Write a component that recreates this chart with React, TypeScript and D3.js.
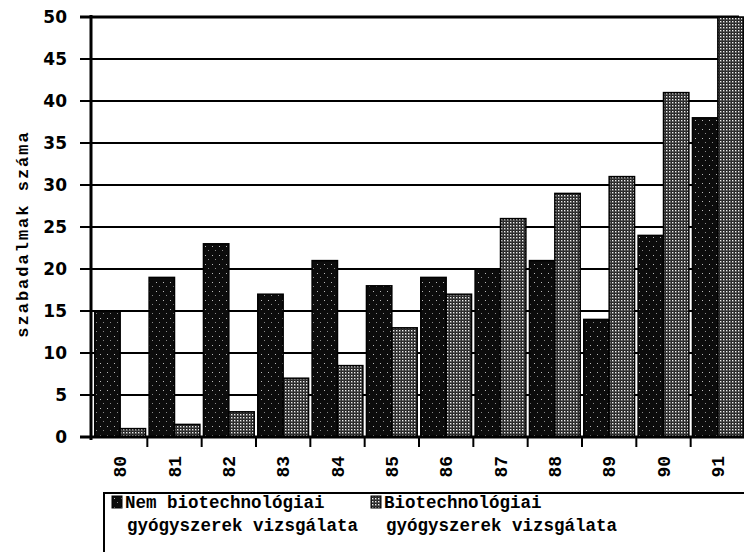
import * as d3 from 'd3';
import {useEffect, useRef} from 'react';

const years = ['80', '81', '82', '83', '84', '85', '86', '87', '88', '89', '90', '91'];
const nemBio = [15, 19, 23, 17, 21, 18, 19, 20, 21, 14, 24, 38];
const bio = [1, 1.5, 3, 7, 8.5, 13, 17, 26, 29, 31, 41, 50];
const yTicks = [0, 5, 10, 15, 20, 25, 30, 35, 40, 45, 50];
const seriesNames = ['Nem biotechnológiai', 'Biotechnológiai'];
const legendSecondLine = 'gyógyszerek vizsgálata';

const App = ({width = 744, height = 552}) => {
    const ref = useRef(null);

    const margins = {top: 17, right: -1, bottom: 115, left: 91};
    const mono = '"Liberation Mono", "DejaVu Sans Mono", monospace';

    useEffect(() => {
        document.body.style.margin = '0';
        const svg = d3.select(ref.current).attr('width', width).attr('height', height).style('background', '#fff');
        svg.selectAll('*').remove();

        const defs = svg.append('defs');
        const dark = defs.append('pattern').attr('id', 'darkPat').attr('width', 7).attr('height', 9).attr('patternUnits', 'userSpaceOnUse');
        dark.append('rect').attr('width', 7).attr('height', 9).attr('fill', '#0c0c0c');
        dark.append('rect').attr('x', 2).attr('y', 3).attr('width', 1).attr('height', 1).attr('fill', '#bbb');
        dark.append('rect').attr('x', 5).attr('y', 7).attr('width', 1).attr('height', 1).attr('fill', '#888');

        const light = defs.append('pattern').attr('id', 'lightPat').attr('width', 3).attr('height', 3).attr('patternUnits', 'userSpaceOnUse');
        light.append('rect').attr('width', 3).attr('height', 3).attr('fill', '#222');
        light.append('rect').attr('x', 0).attr('y', 0).attr('width', 1.4).attr('height', 1.4).attr('fill', '#eee');
        light.append('rect').attr('x', 1.5).attr('y', 1.5).attr('width', 0.8).attr('height', 0.8).attr('fill', '#999');

        const x = d3.scaleBand<string>().domain(years).range([93, 745]).paddingInner(0);
        const sub = d3.scaleBand<number>().domain([0, 1]).range([0, x.bandwidth()]).paddingOuter(0.07).paddingInner(0);
        const y = d3.scaleLinear().domain([0, 50]).range([437, margins.top]);

        // grid
        svg.append('g')
            .selectAll('line')
            .data(yTicks.filter((t) => t > 0))
            .join('line')
            .attr('x1', 80)
            .attr('x2', 739)
            .attr('y1', (d) => y(d))
            .attr('y2', (d) => y(d))
            .attr('stroke', '#000')
            .attr('stroke-width', (d) => (d === 50 ? 3 : 2));

        // bars
        const fills = ['url(#darkPat)', 'url(#lightPat)'];
        [nemBio, bio].forEach((vals, si) => {
            svg.append('g')
                .selectAll('rect')
                .data(vals)
                .join('rect')
                .attr('x', (_, i) => x(years[i])! + sub(si)!)
                .attr('y', (d) => y(d))
                .attr('width', sub.bandwidth())
                .attr('height', (d) => y(0) - y(d))
                .attr('fill', fills[si])
                .attr('stroke', '#000')
                .attr('stroke-width', 1.5);
        });

        // axes
        svg.append('line').attr('x1', margins.left).attr('x2', margins.left).attr('y1', 15).attr('y2', 440).attr('stroke', '#000').attr('stroke-width', 3);
        svg.append('line').attr('x1', 80).attr('x2', 745).attr('y1', y(0)).attr('y2', y(0)).attr('stroke', '#000').attr('stroke-width', 3);

        svg.append('g')
            .selectAll('line')
            .data(years.slice(1))
            .join('line')
            .attr('x1', (d) => x(d)!)
            .attr('x2', (d) => x(d)!)
            .attr('y1', y(0))
            .attr('y2', y(0) + 10)
            .attr('stroke', '#000')
            .attr('stroke-width', 2);

        svg.append('g')
            .selectAll('text')
            .data(yTicks)
            .join('text')
            .attr('x', 67)
            .attr('y', (d) => y(d))
            .attr('dy', '0.36em')
            .attr('text-anchor', 'end')
            .attr('font-family', '"DejaVu Sans", sans-serif')
            .attr('font-weight', 'bold')
            .attr('font-size', 17)
            .text((d) => d);

        svg.append('g')
            .selectAll('text')
            .data(years)
            .join('text')
            .attr('transform', (d) => `translate(${x(d)! + x.bandwidth() / 2}, 456) rotate(-90)`)
            .attr('dy', '0.35em')
            .attr('text-anchor', 'end')
            .attr('font-family', mono)
            .attr('font-weight', 'bold')
            .attr('font-size', 18)
            .text((d) => d);

        svg.append('text')
            .attr('transform', 'translate(22, 234) rotate(-90)')
            .attr('dy', '0.35em')
            .attr('text-anchor', 'middle')
            .attr('font-family', mono)
            .attr('font-weight', 'bold')
            .attr('font-size', 17)
            .attr('letter-spacing', 2)
            .text('szabadalmak száma');

        // legend
        svg.append('rect').attr('x', 104).attr('y', 493).attr('width', 660).attr('height', 80).attr('fill', '#fff').attr('stroke', '#000').attr('stroke-width', 2);
        const legendX = [112, 371];
        seriesNames.forEach((name, i) => {
            const g = svg.append('g');
            g.append('rect').attr('x', legendX[i]).attr('y', 496).attr('width', 10).attr('height', 12).attr('fill', fills[i]).attr('stroke', '#000').attr('stroke-width', 1);
            g.append('text')
                .attr('x', legendX[i] + 13)
                .attr('y', 508)
                .attr('font-family', mono)
                .attr('font-weight', 'bold')
                .attr('font-size', 17.5)
                .text(name);
            g.append('text')
                .attr('x', legendX[i] + 15)
                .attr('y', 531)
                .attr('font-family', mono)
                .attr('font-weight', 'bold')
                .attr('font-size', 17.5)
                .text(legendSecondLine);
        });
    }, []);

    return <svg ref={ref} style={{display: 'block'}}></svg>;
};

export default App;
